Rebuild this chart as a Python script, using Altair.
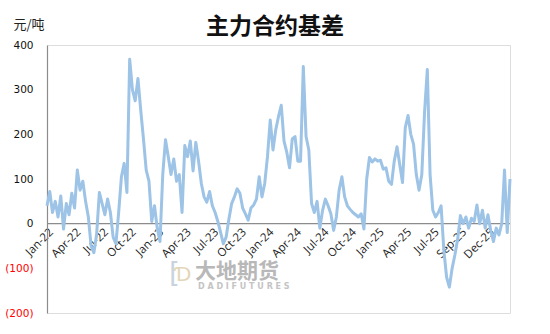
import altair as alt
import pandas as pd

# Quarter-ish tick labels (category axis, one label every 10 samples)
tick_labels = ["Jan-22", "Apr-22", "Jul-22", "Oct-22", "Jan-23", "Apr-23", "Jul-23", "Oct-23",
               "Jan-24", "Apr-24", "Jul-24", "Oct-24", "Jan-25", "Apr-25", "Jul-25", "Sep-25", "Dec-25"]

# Basis values (元/吨), 10 samples per label interval
basis = [
    40, 72, 25, 50, 15, 62, -12, 45, 20, 68,          # Jan-22
    35, 120, 75, 95, 50, 15, -50, -65, -25, 70,       # Apr-22
    45, 20, 55, 25, -30, -45, 25, 105, 135, 70,       # Jul-22
    368, 300, 275, 325, 255, 190, 120, 95, 5, 40,     # Oct-22
    -10, -40, 110, 188, 150, 110, 145, 95, 110, 25,   # Jan-23
    175, 150, 185, 118, 182, 140, 90, 60, 48, 72,     # Apr-23
    40, 25, 5, -20, -45, -30, 10, 45, 60, 78,         # Jul-23
    68, 35, 22, 8, 35, 42, 55, 105, 60, 90,           # Oct-23
    150, 232, 165, 210, 240, 265, 185, 160, 125, 190, # Jan-24
    195, 140, 140, 352, 195, 165, 45, 25, 50, -10,    # Apr-24
    30, 55, 40, 22, -15, 15, 75, 105, 60, 40,         # Jul-24
    32, 25, 20, 15, 22, -12, 100, 148, 138, 145,      # Oct-24
    140, 142, 122, 125, 95, 88, 140, 172, 132, 92,    # Jan-25
    215, 242, 200, 178, 110, 75, 110, 250, 345, 110,  # Apr-25
    30, 15, 25, 40, -60, -120, -142, -100, -70, -35,  # Jul-25
    18, 0, 15, -10, 12, 5, 42, 0, 30, -10,            # Sep-25
    20, -15, -40, -10, -25, 0, 120, -20, 100,         # Dec-25
]

df = pd.DataFrame({"idx": [i / 10 for i in range(len(basis))], "basis": basis})

W, H = 463, 268
label_arr = "[" + ",".join("'" + s + "'" for s in tick_labels) + "]"

x_scale = alt.Scale(domain=[0, (len(basis) - 1) / 10], nice=False, zero=False)
y_scale = alt.Scale(domain=[-200, 400], nice=False)

line = alt.Chart(df).mark_line(color="#9DC3E6", strokeWidth=3, strokeJoin="round").encode(
    x=alt.X("idx:Q", scale=x_scale,
            axis=alt.Axis(values=list(range(len(tick_labels))), labelExpr=label_arr + "[datum.value]",
                          title=None, grid=False, domain=False, ticks=False, tickSize=0,
                          labelAngle=315, labelAlign="right", labelBaseline="top",
                          labelPadding=2, offset=-89, labelFont="Open Sans", labelFontSize=11.5,
                          labelColor="#222222", labelOverlap=False, labelFlush=False)),
    y=alt.Y("basis:Q", scale=y_scale,
            axis=alt.Axis(values=[-200, -100, 0, 100, 200, 300, 400], grid=False, ticks=False, tickSize=0,
                          domainColor="#8c8c8c", domainWidth=1.2,
                          labelExpr="datum.value < 0 ? '(' + (-datum.value) + ')' : '' + datum.value",
                          labelColor={"condition": {"test": "datum.value < 0", "value": "#FF0000"},
                                      "value": "#111111"},
                          labelFont="DejaVu Sans", labelFontSize=10.5, labelPadding=14,
                          title="元/吨", titleAngle=0, titleAlign="left", titleBaseline="alphabetic",
                          titleX=-34, titleY=-17, titleFont="Noto Sans CJK SC", titleFontSize=13,
                          titleFontWeight="normal", titleColor="#222222")),
)

zero = alt.Chart(pd.DataFrame({"z": [0]})).mark_rule(color="#8c8c8c", strokeWidth=1.2).encode(
    y=alt.Y("z:Q", scale=y_scale))

title = alt.Chart(pd.DataFrame({"t": ["主力合约基差"]})).mark_text(
    font="Noto Sans CJK SC", fontSize=23, fontWeight="bold", color="#111111", baseline="alphabetic"
).encode(text="t:N", x=alt.value(228), y=alt.value(-11))

wm1 = alt.Chart(pd.DataFrame({"t": ["大地期货"]})).mark_text(
    font="Noto Sans CJK SC", fontSize=21, fontWeight="bold", color="#b8b8b8", align="left", baseline="alphabetic"
).encode(text="t:N", x=alt.value(148), y=alt.value(233))

wm2 = alt.Chart(pd.DataFrame({"t": ["D A D I   F U T U R E S"]})).mark_text(
    font="DejaVu Sans", fontSize=8, fontWeight="bold", color="#c4c4c4", align="left", baseline="alphabetic"
).encode(text="t:N", x=alt.value(151), y=alt.value(244))

logo1 = alt.Chart(pd.DataFrame({"t": ["["]})).mark_text(
    font="DejaVu Sans", fontSize=28, color="#c9d3df", align="left", baseline="alphabetic"
).encode(text="t:N", x=alt.value(122), y=alt.value(238))

logo2 = alt.Chart(pd.DataFrame({"t": ["Ɗ"]})).mark_text(
    font="DejaVu Sans", fontSize=20, color="#e3d6b8", align="left", baseline="alphabetic"
).encode(text="t:N", x=alt.value(128), y=alt.value(236))

chart = alt.layer(wm1, wm2, logo1, logo2, zero, line, title).properties(
    width=W, height=H,
    autosize=alt.AutoSizeParams(type="none"),
    padding={"left": 47, "top": 45, "right": 40, "bottom": 21},
).configure_view(stroke=None).configure(background="white")

chart.save("out.html", embed_options={"renderer": "svg", "actions": False})
